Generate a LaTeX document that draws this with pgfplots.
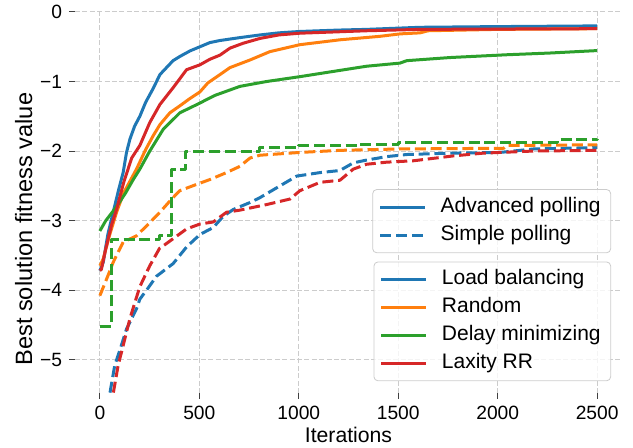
\documentclass[border=0pt]{standalone}
\usepackage{fontspec}
\setmainfont{Liberation Sans}
\usepackage{pgfplots}
\pgfplotsset{compat=1.18}

\definecolor{tabblue}{HTML}{1F77B4}
\definecolor{taborange}{HTML}{FF7F0E}
\definecolor{tabgreen}{HTML}{2CA02C}
\definecolor{tabred}{HTML}{D62728}

\pgfplotsset{
  solidln/.style={line width=1.5pt, line join=round},
  dashln/.style={line width=1.5pt, line join=round, dash pattern=on 5.5pt off 2.4pt},
  fitlegend/.style={
    legend image code/.code={\draw[##1] (0pt,0pt) -- (22.5pt,0pt);},
    legend style={draw=gray!40, rounded corners=2pt, fill=white, fill opacity=0.8,
      text opacity=1, font=\fontsize{10.5}{12}\selectfont,
      cells={anchor=west}, inner xsep=3pt, inner ysep=2.5pt, row sep=1.2pt, column sep=5pt,
      nodes={inner xsep=2pt, inner ysep=1.5pt, text height=0.75em, text depth=0.22em}},
  },
}

\begin{document}
\begin{tikzpicture}
\begin{axis}[
  scale only axis,
  width=273.5pt, height=190.5pt,
  xmin=-125, xmax=2625, ymin=-5.48, ymax=0,
  xtick={0,500,1000,1500,2000,2500},
  ytick={-5,-4,-3,-2,-1,0},
  yticklabels={−5,−4,−3,−2,−1,0},
  /pgf/number format/assume math mode=true,
  /pgf/number format/1000 sep={},
  tick label style={font=\fontsize{9.6}{11}\selectfont},
  xlabel={Iterations},
  ylabel={Best solution fitness value},
  xlabel style={font=\fontsize{10.6}{12}\selectfont, yshift=3pt},
  ylabel style={font=\fontsize{11.8}{13}\selectfont, at={(ticklabel cs:0.43)}, yshift=-3pt},
  axis line style={draw=none},
  tick pos=left, tick align=outside,
  major tick length=3pt,
  tick style={black!75, line width=0.5pt},
  grid=major,
  major grid style={gray!40, line width=0.5pt, dash pattern=on 2.5pt off 1.2pt},
  fitlegend,
  legend style={at={(0.98,0.535)}, anchor=north east},
]
\addlegendimage{tabblue, solidln}
\addlegendimage{tabblue, dashln}

% advanced polling (solid)
\addplot[tabblue, solidln, forget plot] coordinates {
(0,-3.72) (17,-3.6) (40,-3.2) (67,-2.88) (95,-2.55) (117,-2.31) (134,-2.02) (151,-1.83)
(175,-1.64) (201,-1.5) (230,-1.3) (268,-1.1) (302,-0.9) (335,-0.8) (368,-0.7) (402,-0.64)
(453,-0.56) (503,-0.5) (553,-0.44) (604,-0.41) (700,-0.37) (805,-0.33) (900,-0.3)
(1006,-0.28) (1200,-0.26) (1341,-0.25) (1610,-0.22) (2000,-0.21) (2500,-0.2)};
\addplot[taborange, solidln, forget plot] coordinates {
(0,-3.65) (17,-3.55) (50,-3.2) (84,-2.88) (120,-2.6) (184,-2.26) (230,-1.98) (268,-1.78)
(302,-1.62) (352,-1.45) (402,-1.35) (450,-1.25) (503,-1.15) (543,-1.02) (604,-0.9)
(654,-0.8) (755,-0.69) (855,-0.57) (1006,-0.47) (1207,-0.4) (1408,-0.35) (1509,-0.315)
(1610,-0.3) (1650,-0.27) (2000,-0.25) (2500,-0.24)};
\addplot[tabgreen, solidln, forget plot] coordinates {
(0,-3.15) (30,-3.0) (84,-2.8) (130,-2.6) (168,-2.41) (201,-2.26) (251,-2.0) (318,-1.69)
(402,-1.45) (503,-1.31) (543,-1.25) (578,-1.2) (704,-1.07) (838,-1.0) (1006,-0.93)
(1173,-0.855) (1341,-0.78) (1509,-0.735) (1543,-0.7) (1761,-0.655) (2046,-0.615)
(2264,-0.59) (2500,-0.555)};
\addplot[tabred, solidln, forget plot] coordinates {
(0,-3.72) (8,-3.7) (30,-3.4) (60,-3.05) (84,-2.84) (120,-2.45) (160,-2.1) (201,-1.92)
(251,-1.59) (302,-1.33) (368,-1.09) (436,-0.83) (503,-0.76) (553,-0.68) (604,-0.62)
(654,-0.52) (720,-0.45) (805,-0.38) (900,-0.33) (1006,-0.305) (1341,-0.27) (1610,-0.25)
(2500,-0.24)};

% simple polling (dashed)
\addplot[tabblue, dashln, forget plot] coordinates {
(40,-5.7) (50,-5.49) (75,-5.08) (101,-4.86) (134,-4.56) (184,-4.27) (201,-4.13) (235,-4.0)
(285,-3.8) (368,-3.62) (436,-3.38) (503,-3.2) (570,-3.1) (620,-2.94) (671,-2.84)
(755,-2.74) (805,-2.67) (906,-2.5) (990,-2.36) (1107,-2.31) (1207,-2.28) (1274,-2.17)
(1341,-2.13) (1442,-2.08) (1543,-2.05) (1761,-2.03) (2012,-2.02) (2180,-1.97) (2500,-1.95)};
\addplot[taborange, dashln, forget plot] coordinates {
(0,-4.08) (34,-3.84) (67,-3.6) (84,-3.5) (117,-3.31) (184,-3.22) (251,-3.03) (302,-2.88)
(361,-2.69) (402,-2.57) (486,-2.48) (553,-2.41) (637,-2.31) (704,-2.22) (755,-2.1)
(805,-2.06) (1006,-2.02) (1207,-1.99) (1509,-1.97) (2030,-1.96) (2046,-1.92) (2500,-1.91)};
\addplot[tabgreen, dashln, const plot, forget plot] coordinates {
(0,-4.52) (59,-3.27) (300,-3.22) (361,-2.27) (430,-2.0) (805,-1.95) (1000,-1.92)
(1300,-1.9) (1500,-1.87) (2300,-1.83) (2500,-1.82)};
\addplot[tabred, dashln, forget plot] coordinates {
(60,-5.7) (67,-5.49) (92,-5.08) (117,-4.8) (151,-4.41) (201,-3.95) (251,-3.65) (300,-3.4)
(335,-3.33) (436,-3.12) (503,-3.05) (570,-3.02) (637,-2.88) (704,-2.85) (838,-2.77)
(956,-2.69) (1006,-2.57) (1107,-2.45) (1207,-2.42) (1274,-2.26) (1341,-2.19) (1442,-2.16)
(1576,-2.14) (1777,-2.07) (1928,-2.03) (2180,-2.0) (2500,-1.99)};
\legend{Advanced polling, Simple polling}
\end{axis}

% second legend: scheduling policies
\begin{axis}[
  scale only axis,
  width=273.5pt, height=190.5pt,
  xmin=-125, xmax=2625, ymin=-5.48, ymax=0,
  hide axis,
  fitlegend,
  legend style={at={(0.98,0.031)}, anchor=south east},
]
\addlegendimage{tabblue, solidln}
\addlegendimage{taborange, solidln}
\addlegendimage{tabgreen, solidln}
\addlegendimage{tabred, solidln}
\legend{Load balancing, Random, Delay minimizing, Laxity RR}
\end{axis}

\pgfresetboundingbox
\path[use as bounding box] ([shift={(-37.5pt,-27.5pt)}]current axis.south west)
  rectangle ([shift={(5.5pt,6pt)}]current axis.north east);
\end{tikzpicture}
\end{document}
